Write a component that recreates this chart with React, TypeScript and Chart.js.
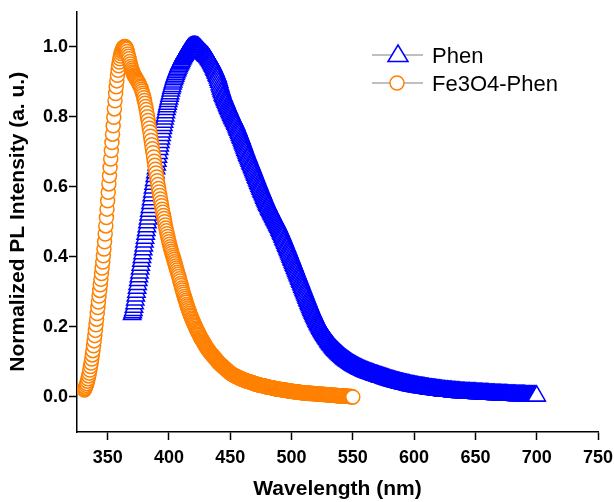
import { useEffect, useRef } from 'react';
import { Chart, registerables } from 'chart.js';

Chart.register(...registerables);

// Wavelength grid of both spectra (nm): start and sampling step
const PHEN_START = 370;
const FE_START = 331;
const STEP = 0.5;

// Phen normalized PL intensity, 370 nm .. 700 nm every 0.5 nm
const phenValues = [
  .235, .240, .247, .256, .266, .277, .288, .299, .310, .321,
  .332, .343, .354, .365, .376, .387, .398, .409, .420, .431,
  .442, .453, .464, .475, .486, .497, .508, .519, .530, .541,
  .552, .563, .574, .585, .596, .607, .618, .629, .640, .651,
  .662, .673, .684, .695, .706, .716, .726, .736, .746, .756,
  .766, .775, .784, .793, .802, .811, .820, .828, .835, .843,
  .850, .858, .865, .873, .880, .886, .893, .899, .905, .910,
  .915, .920, .925, .930, .934, .939, .943, .947, .951, .954,
  .958, .962, .965, .969, .972, .975, .978, .981, .984, .986,
  .989, .991, .993, .995, .996, .997, .998, .999, .999, 1.000,
  1.000, 1.000, 1.000, 1.000, 1.000, .999, .999, .998, .997, .995,
  .994, .992, .990, .988, .986, .984, .982, .980, .979, .977,
  .975, .973, .972, .970, .968, .965, .963, .960, .957, .954,
  .951, .947, .944, .940, .936, .932, .928, .924, .919, .915,
  .910, .904, .898, .891, .885, .879, .873, .868, .862, .858,
  .854, .849, .845, .841, .837, .832, .828, .824, .820, .816,
  .812, .808, .804, .800, .796, .793, .789, .786, .782, .778,
  .774, .769, .765, .761, .756, .752, .747, .742, .738, .733,
  .728, .723, .719, .714, .709, .704, .700, .695, .690, .686,
  .682, .677, .673, .668, .664, .660, .655, .651, .646, .642,
  .637, .633, .628, .624, .619, .615, .610, .606, .601, .597,
  .593, .588, .584, .580, .576, .571, .567, .563, .559, .555,
  .551, .547, .544, .540, .536, .533, .529, .526, .522, .519,
  .515, .512, .508, .505, .502, .498, .495, .491, .488, .484,
  .480, .476, .472, .468, .464, .460, .456, .451, .447, .443,
  .439, .434, .430, .426, .421, .417, .412, .408, .403, .399,
  .394, .390, .385, .381, .376, .372, .367, .363, .358, .354,
  .349, .345, .340, .336, .331, .327, .322, .318, .313, .309,
  .304, .300, .295, .291, .286, .282, .277, .273, .268, .264,
  .260, .255, .251, .247, .243, .239, .235, .231, .228, .224,
  .220, .216, .213, .209, .206, .203, .200, .196, .193, .190,
  .187, .184, .181, .178, .176, .173, .170, .168, .165, .163,
  .160, .157, .155, .152, .150, .148, .146, .143, .141, .139,
  .137, .135, .133, .131, .130, .128, .126, .124, .123, .121,
  .119, .118, .116, .115, .113, .111, .110, .108, .107, .106,
  .104, .103, .102, .101, .099, .098, .097, .096, .094, .093,
  .092, .091, .090, .089, .088, .087, .086, .085, .084, .083,
  .082, .081, .080, .080, .079, .078, .077, .076, .075, .075,
  .074, .073, .072, .072, .071, .070, .070, .069, .068, .068,
  .067, .066, .066, .065, .064, .064, .063, .062, .062, .061,
  .061, .060, .060, .059, .058, .058, .057, .057, .056, .056,
  .055, .054, .054, .053, .053, .052, .051, .051, .050, .050,
  .049, .048, .048, .047, .047, .046, .046, .045, .045, .044,
  .044, .043, .043, .042, .042, .041, .041, .040, .040, .039,
  .039, .039, .038, .038, .037, .037, .036, .036, .036, .035,
  .035, .035, .034, .034, .033, .033, .032, .032, .032, .031,
  .031, .031, .030, .030, .030, .029, .029, .029, .028, .028,
  .028, .027, .027, .027, .027, .026, .026, .026, .025, .025,
  .025, .025, .024, .024, .024, .023, .023, .023, .023, .022,
  .022, .022, .022, .021, .021, .021, .021, .020, .020, .020,
  .020, .020, .019, .019, .019, .019, .018, .018, .018, .018,
  .018, .017, .017, .017, .017, .017, .016, .016, .016, .016,
  .016, .016, .015, .015, .015, .015, .015, .015, .014, .014,
  .014, .014, .014, .014, .014, .013, .013, .013, .013, .013,
  .013, .013, .013, .012, .012, .012, .012, .012, .012, .012,
  .012, .012, .011, .011, .011, .011, .011, .011, .011, .011,
  .011, .011, .010, .010, .010, .010, .010, .010, .010, .010,
  .010, .010, .009, .009, .009, .009, .009, .009, .009, .009,
  .009, .009, .008, .008, .008, .008, .008, .008, .008, .008,
  .008, .008, .007, .007, .007, .007, .007, .007, .007, .007,
  .007, .007, .006, .006, .006, .006, .006, .006, .006, .006,
  .006, .006, .006, .005, .005, .005, .005, .005, .005, .005,
  .005, .005, .005, .005, .005, .005, .004, .004, .004, .004,
  .004, .004, .004, .004, .004, .004, .004, .004, .004, .004,
  .004, .004, .003, .003, .003, .003, .003, .003, .003, .003,
  .003, .003, .003, .003, .003, .003, .003, .003, .003, .003,
  .003,
];

// Fe3O4-Phen normalized PL intensity, 331 nm .. 550 nm every 0.5 nm
const feValues = [
  .020, .024, .028, .033, .038, .045, .052, .060, .068, .077,
  .087, .097, .108, .120, .132, .146, .160, .175, .190, .206,
  .222, .238, .255, .271, .288, .304, .320, .336, .352, .368,
  .385, .403, .422, .443, .465, .488, .512, .536, .560, .584,
  .608, .631, .655, .679, .703, .726, .750, .774, .798, .822,
  .845, .866, .885, .902, .918, .932, .945, .956, .965, .973,
  .980, .986, .991, .995, .998, .999, 1.000, .999, .996, .992,
  .986, .979, .972, .965, .957, .950, .943, .937, .932, .927,
  .923, .919, .916, .913, .910, .907, .904, .901, .898, .895,
  .891, .887, .883, .878, .873, .867, .861, .854, .846, .838,
  .829, .820, .810, .800, .789, .778, .767, .756, .744, .732,
  .720, .708, .697, .685, .673, .661, .650, .639, .628, .617,
  .606, .595, .585, .575, .565, .555, .546, .536, .527, .518,
  .509, .500, .491, .482, .474, .466, .458, .450, .443, .436,
  .429, .422, .416, .410, .404, .398, .392, .386, .380, .374,
  .368, .362, .356, .350, .344, .337, .331, .324, .318, .311,
  .305, .299, .293, .287, .281, .275, .270, .264, .259, .254,
  .249, .244, .239, .234, .230, .225, .221, .217, .213, .209,
  .205, .201, .197, .193, .190, .186, .183, .179, .176, .172,
  .169, .166, .163, .160, .157, .154, .151, .148, .145, .142,
  .140, .137, .135, .132, .130, .127, .125, .123, .121, .119,
  .117, .115, .113, .111, .109, .107, .105, .102, .100, .098,
  .097, .095, .093, .091, .090, .088, .087, .085, .084, .082,
  .081, .079, .078, .076, .075, .073, .071, .070, .068, .067,
  .066, .065, .064, .063, .062, .061, .060, .059, .058, .057,
  .057, .056, .055, .054, .053, .052, .052, .051, .050, .049,
  .049, .048, .048, .047, .046, .045, .045, .044, .044, .043,
  .043, .042, .042, .041, .041, .040, .039, .038, .038, .037,
  .037, .036, .036, .035, .035, .034, .034, .033, .033, .033,
  .033, .032, .032, .031, .031, .030, .030, .029, .029, .028,
  .028, .028, .028, .027, .027, .026, .026, .026, .025, .025,
  .024, .024, .024, .023, .023, .022, .022, .022, .022, .021,
  .021, .021, .021, .020, .020, .020, .020, .019, .019, .019,
  .019, .018, .018, .017, .017, .017, .017, .016, .016, .016,
  .016, .015, .015, .015, .015, .015, .015, .014, .014, .014,
  .014, .013, .013, .013, .013, .012, .012, .012, .012, .012,
  .012, .011, .011, .011, .011, .011, .011, .010, .010, .010,
  .010, .010, .010, .010, .010, .009, .009, .009, .009, .009,
  .009, .008, .008, .008, .008, .008, .008, .008, .008, .007,
  .007, .007, .007, .007, .007, .006, .006, .006, .006, .006,
  .006, .005, .005, .005, .005, .005, .005, .005, .005, .004,
  .004, .004, .004, .004, .004, .003, .003, .003, .003, .003,
  .003, .003, .003, .002, .002, .002, .002, .002, .002, .002,
  .002, .001, .001, .001, .001, .001, .001, .000, .000,
];

const SERIES_NAMES = ['Phen', 'Fe3O4-Phen'];
const X_MIN = 325;
const X_MAX = 750;
const X_STEP = 25;
const Y_MIN = -0.1;
const Y_MAX = 1.1;
const Y_STEP = 0.1;
const X_TITLE = 'Wavelength (nm)';
const Y_TITLE = 'Normalized PL Intensity (a. u.)';

const FONT = '"Liberation Sans", Arial, Helvetica, sans-serif';
const BLUE = '#0000ff';
const ORANGE = '#ff8000';
const GREY = '#808080';

const isMajorX = (v: number) => v % 50 === 0;
const isMajorY = (v: number) => Math.round(v * 10) % 2 === 0;

const minorTicksPlugin = {
  id: 'minorTicks',
  afterDraw(chart: any) {
    const ctx = chart.ctx;
    const xs = chart.scales.x;
    const ys = chart.scales.y;
    ctx.save();
    ctx.strokeStyle = '#000';
    ctx.lineWidth = 1.5;
    ctx.beginPath();
    xs.ticks.forEach((t: any) => {
      if (!isMajorX(t.value)) {
        const px = Math.round(xs.getPixelForValue(t.value)) + 0.5;
        ctx.moveTo(px, xs.top);
        ctx.lineTo(px, xs.top + 5);
      }
    });
    ys.ticks.forEach((t: any) => {
      if (!isMajorY(t.value)) {
        const py = Math.round(ys.getPixelForValue(t.value)) + 0.5;
        ctx.moveTo(ys.right - 5, py);
        ctx.lineTo(ys.right, py);
      }
    });
    ctx.stroke();
    ctx.restore();
  },
};

const legendPlugin = {
  id: 'originLegend',
  afterDraw(chart: any) {
    const ctx = chart.ctx;
    ctx.save();
    const rows = [
      { y: 55, name: SERIES_NAMES[0], shape: 'triangle', color: BLUE, baseline: 62.5 },
      { y: 83, name: SERIES_NAMES[1], shape: 'circle', color: ORANGE, baseline: 91 },
    ];
    rows.forEach((r) => {
      ctx.strokeStyle = GREY;
      ctx.lineWidth = 1.2;
      ctx.beginPath();
      ctx.moveTo(372, r.y);
      ctx.lineTo(423, r.y);
      ctx.stroke();
      ctx.fillStyle = '#fff';
      ctx.strokeStyle = r.color;
      ctx.lineWidth = 1.5;
      ctx.beginPath();
      if (r.shape === 'triangle') {
        ctx.moveTo(398, r.y - 10);
        ctx.lineTo(408, r.y + 6.5);
        ctx.lineTo(388, r.y + 6.5);
        ctx.closePath();
      } else {
        ctx.arc(397, r.y, 7, 0, Math.PI * 2);
      }
      ctx.fill();
      ctx.stroke();
      ctx.fillStyle = '#000';
      ctx.font = `22px ${FONT}`;
      ctx.textAlign = 'left';
      ctx.textBaseline = 'alphabetic';
      ctx.fillText(r.name, 432, r.baseline);
    });
    ctx.restore();
  },
};

export default function App() {
  const canvasRef = useRef<HTMLCanvasElement | null>(null);

  useEffect(() => {
    if (!canvasRef.current) return;
    const phenData = phenValues.map((v, i) => ({ x: PHEN_START + i * STEP, y: v }));
    const feData = feValues.map((v, i) => ({ x: FE_START + i * STEP, y: v }));

    const chart = new Chart(canvasRef.current, {
      type: 'line',
      data: {
        datasets: [
          {
            label: SERIES_NAMES[0],
            data: phenData,
            order: 2,
            borderColor: GREY,
            borderWidth: 1,
            pointStyle: 'triangle',
            pointRadius: 10,
            pointBorderWidth: 1.5,
            pointBorderColor: BLUE,
            pointBackgroundColor: '#ffffff',
            tension: 0,
          },
          {
            label: SERIES_NAMES[1],
            data: feData,
            order: 1,
            borderColor: GREY,
            borderWidth: 1,
            pointStyle: 'circle',
            pointRadius: 7,
            pointBorderWidth: 1.5,
            pointBorderColor: ORANGE,
            pointBackgroundColor: '#ffffff',
            tension: 0,
          },
        ],
      },
      options: {
        animation: false,
        responsive: false,
        events: [],
        layout: { padding: { left: 0, right: 16, top: 8, bottom: 0 } },
        plugins: { legend: { display: false }, tooltip: { enabled: false } },
        scales: {
          x: {
            type: 'linear',
            min: X_MIN,
            max: X_MAX,
            afterFit: (s: any) => {
              s.height = 70;
              s.paddingLeft = 0;
              s.paddingRight = 0;
            },
            ticks: {
              stepSize: X_STEP,
              autoSkip: false,
              maxRotation: 0,
              padding: 7,
              color: '#000',
              font: { family: FONT, size: 18, weight: 'bold' },
              callback: (v: any) => (isMajorX(Number(v)) ? String(v) : null),
            },
            grid: {
              drawOnChartArea: false,
              drawTicks: true,
              tickLength: 8,
              tickWidth: 1.5,
              tickColor: '#000',
            },
            border: { display: true, color: '#000', width: 1.5 },
            title: {
              display: true,
              text: X_TITLE,
              color: '#000',
              font: { family: FONT, size: 21, weight: 'bold' },
              padding: { top: 0, bottom: 0 },
            },
          },
          y: {
            type: 'linear',
            min: Y_MIN,
            max: Y_MAX,
            afterFit: (s: any) => {
              s.width = 77;
              s.paddingTop = 0;
              s.paddingBottom = 0;
            },
            ticks: {
              stepSize: Y_STEP,
              autoSkip: false,
              padding: 1,
              color: '#000',
              font: { family: FONT, size: 18, weight: 'bold' },
              callback: (v: any) => (isMajorY(Number(v)) ? Number(v).toFixed(1) : null),
            },
            grid: {
              drawOnChartArea: false,
              drawTicks: true,
              tickLength: 8,
              tickWidth: 1.5,
              tickColor: '#000',
            },
            border: { display: true, color: '#000', width: 1.5 },
            title: {
              display: true,
              text: Y_TITLE,
              color: '#000',
              font: { family: FONT, size: 21, weight: 'bold' },
              padding: { top: 6, bottom: 0 },
            },
          },
        },
      },
      plugins: [minorTicksPlugin, legendPlugin],
    } as any);

    return () => chart.destroy();
  }, []);

  return (
    <div style={{ position: 'absolute', left: 0, top: 0, width: 614, height: 502, background: '#fff' }}>
      <canvas ref={canvasRef} width={614} height={502} />
    </div>
  );
}
